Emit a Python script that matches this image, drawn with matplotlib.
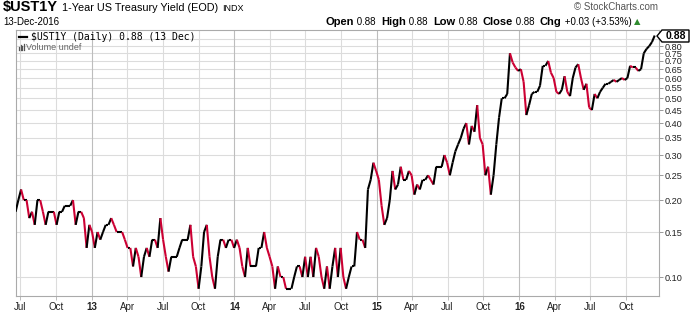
import matplotlib
matplotlib.use('Agg')
import matplotlib.pyplot as plt
import matplotlib.dates as mdates
from matplotlib.collections import LineCollection
from matplotlib.patches import Polygon
from matplotlib.lines import Line2D
from matplotlib.ticker import NullLocator
import numpy as np
import pandas as pd

# weekly closes, 19-Jun-2012 .. 13-Dec-2016
yields = [
    0.18, 0.20, 0.22, 0.20, 0.20, 0.17, 0.18, 0.16, 0.20, 0.20,
    0.18, 0.16, 0.18, 0.18, 0.18, 0.16, 0.18, 0.18, 0.19, 0.19,
    0.19, 0.20, 0.16, 0.18, 0.18, 0.17, 0.13, 0.16, 0.15, 0.13,
    0.15, 0.14, 0.15, 0.16, 0.16, 0.17, 0.16, 0.15, 0.15, 0.15,
    0.14, 0.13, 0.13, 0.11, 0.13, 0.12, 0.10, 0.12, 0.13, 0.12,
    0.14, 0.14, 0.13, 0.17, 0.14, 0.12, 0.105, 0.12, 0.12, 0.12,
    0.13, 0.14, 0.14, 0.14, 0.16, 0.12, 0.11, 0.09, 0.11, 0.15,
    0.16, 0.12, 0.10, 0.09, 0.12, 0.14, 0.14, 0.13, 0.14, 0.14,
    0.13, 0.14, 0.13, 0.11, 0.10, 0.13, 0.11, 0.11, 0.11, 0.13,
    0.13, 0.15, 0.13, 0.12, 0.11, 0.09, 0.11, 0.10, 0.10, 0.09,
    0.09, 0.09, 0.10, 0.11, 0.11, 0.10, 0.12, 0.10, 0.12, 0.10,
    0.13, 0.12, 0.10, 0.09, 0.11, 0.09, 0.11, 0.13, 0.10, 0.13,
    0.10, 0.09, 0.10, 0.11, 0.11, 0.15, 0.14, 0.14, 0.13, 0.22,
    0.24, 0.28, 0.26, 0.24, 0.19, 0.16, 0.17, 0.20, 0.26, 0.22,
    0.23, 0.27, 0.24, 0.24, 0.26, 0.25, 0.21, 0.23, 0.22, 0.24,
    0.24, 0.25, 0.24, 0.23, 0.27, 0.27, 0.27, 0.30, 0.28, 0.25,
    0.28, 0.31, 0.33, 0.35, 0.38, 0.40, 0.33, 0.39, 0.37, 0.47,
    0.35, 0.33, 0.25, 0.27, 0.21, 0.25, 0.33, 0.42, 0.50, 0.50,
    0.52, 0.75, 0.69, 0.66, 0.64, 0.65, 0.58, 0.43, 0.47, 0.52,
    0.53, 0.53, 0.56, 0.67, 0.67, 0.70, 0.63, 0.60, 0.53, 0.52,
    0.54, 0.61, 0.53, 0.51, 0.60, 0.66, 0.68, 0.60, 0.54, 0.57,
    0.46, 0.45, 0.52, 0.50, 0.53, 0.55, 0.57, 0.57, 0.58, 0.59,
    0.58, 0.59, 0.60, 0.59, 0.60, 0.67, 0.66, 0.66, 0.64, 0.65,
    0.75, 0.78, 0.80, 0.83, 0.88,
]
dates = pd.date_range('2012-06-19', periods=len(yields), freq='7D')

yticks = [0.10, 0.15, 0.20, 0.25, 0.30, 0.35, 0.40, 0.45, 0.50,
          0.55, 0.60, 0.65, 0.70, 0.75, 0.80]
xticks = pd.date_range('2012-07-01', '2016-10-01', freq='QS-JAN')

red = '#cc0033'
W, H = 700, 312

fig = plt.figure(figsize=(7, 3.12), dpi=100)
ax = fig.add_axes([16 / W, 1 - 296 / H, (659 - 16) / W, (296 - 30) / H])

x = mdates.date2num(dates)
y = np.array(yields)
pts = np.column_stack([x, y])
segs = np.stack([pts[:-1], pts[1:]], axis=1)
cols = [red if b < a else 'black' for a, b in zip(y[:-1], y[1:])]
ax.add_collection(LineCollection(segs, colors=cols, linewidths=1.5, zorder=3))

ax.set_yscale('log')
ax.set_xlim(pd.Timestamp('2012-06-20'), pd.Timestamp('2016-12-24'))
ax.set_ylim(0.0843, 0.925)

# grid
for v in yticks + [0.85]:
    ax.axhline(v, color='#dcdcdc', lw=0.8, zorder=1)
for d in xticks:
    c = '#bdbdbd' if d.month == 1 else '#dcdcdc'
    ax.axvline(d, color=c, lw=0.8, zorder=1)

ax.yaxis.tick_right()
ax.yaxis.set_minor_locator(NullLocator())
ax.set_yticks(yticks)
ax.set_yticklabels(['%.2f' % v for v in yticks], fontsize=6.6,
                   family='Liberation Sans', color='#222222')
ax.tick_params(axis='y', length=3, width=0.7, color='#999999', pad=1)

labels = [str(d.year)[2:] if d.month == 1 else d.strftime('%b') for d in xticks]
ax.set_xticks(xticks)
ax.set_xticklabels(labels, fontsize=7, family=['Liberation Sans Narrow', 'Liberation Sans'],
                   color='#222222')
for t, d in zip(ax.get_xticklabels(), xticks):
    if d.month == 1:
        t.set_fontweight('bold')
ax.tick_params(axis='x', length=3, width=0.7, color='#bbbbbb', pad=1)

for s in ax.spines.values():
    s.set_color('#aaaaaa')
    s.set_linewidth(0.8)


def fx(px):
    return px / W


def fy(py):
    return 1 - py / H


fig.canvas.draw()
renderer = fig.canvas.get_renderer()

# header
t1 = fig.text(fx(3), fy(11), '$UST1Y', fontsize=10.5, fontweight='bold',
              family='Liberation Sans', va='baseline')
px = 3 + t1.get_window_extent(renderer).width + 4
t2 = fig.text(fx(px), fy(11), '1-Year US Treasury Yield (EOD)', fontsize=7.8,
              family='Liberation Sans', va='baseline')
px += t2.get_window_extent(renderer).width + 4
fig.text(fx(px), fy(11), 'INDX', fontsize=6.5, family='Liberation Sans', va='baseline')
fig.text(fx(3), fy(25), '13-Dec-2016', fontsize=7, family='Liberation Sans', va='baseline')
fig.text(fx(658), fy(10), '\u00a9 StockCharts.com', fontsize=7, family='Liberation Sans',
         color='#555555', ha='right', va='baseline')

parts = [('Open', True), (' 0.88  ', False), ('High', True), (' 0.88  ', False),
         ('Low', True), (' 0.88  ', False), ('Close', True), (' 0.88  ', False),
         ('Chg', True), (' +0.03 (+3.53%)', False)]
px = 326
for s, b in parts:
    t = fig.text(fx(px), fy(25), s, fontsize=8 if b else 7, family='Liberation Sans',
                 fontweight='bold' if b else 'normal', va='baseline')
    px += t.get_window_extent(renderer).width
fig.text(fx(px + 3), fy(24), '\u25b2', fontsize=6, color='#2e8b2e', va='baseline',
         family='DejaVu Sans')

# legend inside plot
fig.add_artist(Line2D([fx(19), fx(27)], [fy(37), fy(37)], color='black', lw=1.6))
fig.text(fx(31), fy(40), '$UST1Y (Daily) 0.88 (13 Dec)', fontsize=7,
         family='DejaVu Sans Mono', va='baseline')
for i, hgt in enumerate([3, 5, 4, 6]):
    fig.add_artist(Line2D([fx(19 + i * 1.5)] * 2, [fy(50), fy(50 - hgt)],
                          color='#555555', lw=0.9))
fig.text(fx(26), fy(50), 'Volume undef', fontsize=6.5, family='Liberation Sans',
         color='#666666', va='baseline')

# last value tag
tag = Polygon([(fx(657), fy(36)), (fx(662), fy(30)), (fx(689), fy(30)),
               (fx(689), fy(42)), (fx(662), fy(42))], closed=True,
              facecolor='white', edgecolor='black', lw=1, transform=fig.transFigure)
fig.add_artist(tag)
fig.text(fx(676), fy(36), '0.88', fontsize=7.5, fontweight='bold',
         family='Liberation Sans', ha='center', va='center')

fig.savefig('out.png', dpi=100)
